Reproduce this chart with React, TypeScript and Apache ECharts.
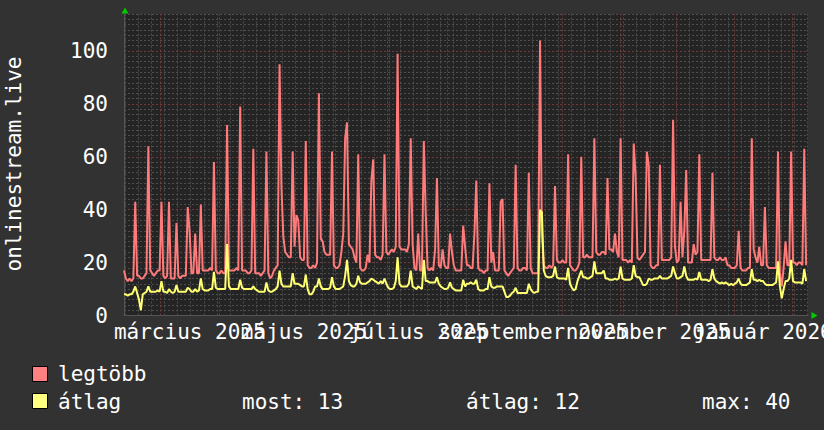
import React, { useEffect, useRef } from 'react';
import * as echarts from 'echarts';

const FONT = '"DejaVu Sans Mono", monospace';
const DAY = 86400000;
// left edge of the plot (one year back from the right edge)
const START = Date.UTC(2025, 1, 9, 9, 36);
const SPAN_DAYS = 365;

// daily maximum viewers ("legtöbb")
const maxValues = [
  17, 14, 13, 14, 13, 14, 43, 15, 15, 14,
  14, 15, 16, 64, 17, 16, 15, 16, 17, 17,
  43, 15, 14, 15, 43, 14, 14, 14, 35, 15,
  14, 15, 15, 15, 41, 32, 16, 16, 31, 16,
  16, 42, 17, 17, 17, 17, 18, 17, 58, 17,
  16, 16, 17, 16, 16, 72, 17, 17, 17, 17,
  18, 17, 79, 17, 17, 17, 16, 16, 17, 63,
  16, 16, 16, 15, 16, 17, 62, 16, 14, 15,
  17, 18, 19, 95, 49, 30, 24, 23, 22, 22,
  62, 26, 38, 36, 22, 21, 21, 66, 19, 18,
  18, 19, 18, 20, 84, 29, 28, 24, 23, 23,
  23, 62, 19, 18, 18, 19, 24, 31, 67, 73,
  27, 26, 25, 22, 20, 61, 18, 17, 17, 18,
  23, 20, 51, 59, 23, 22, 22, 21, 23, 61,
  24, 23, 24, 25, 24, 26, 99, 26, 25, 25,
  25, 24, 27, 67, 27, 18, 17, 31, 17, 17,
  66, 39, 18, 17, 18, 17, 25, 52, 19, 18,
  25, 19, 18, 18, 31, 24, 19, 17, 17, 17,
  17, 34, 26, 19, 19, 18, 18, 31, 51, 18,
  17, 17, 16, 17, 17, 50, 20, 24, 17, 17,
  17, 43, 44, 17, 16, 15, 16, 17, 18, 57,
  18, 17, 17, 18, 18, 17, 54, 18, 16, 16,
  16, 16, 104, 31, 19, 18, 18, 19, 18, 19,
  49, 21, 20, 20, 21, 20, 20, 61, 19, 18,
  17, 17, 18, 20, 60, 22, 22, 23, 22, 22,
  22, 67, 24, 23, 23, 24, 24, 23, 52, 25,
  25, 24, 31, 24, 22, 67, 21, 21, 21, 20,
  21, 20, 65, 53, 22, 21, 22, 23, 24, 62,
  57, 19, 18, 18, 19, 19, 57, 21, 21, 21,
  21, 21, 22, 74, 26, 20, 21, 43, 22, 32,
  55, 20, 20, 20, 27, 23, 24, 61, 21, 21,
  21, 21, 21, 21, 54, 22, 21, 21, 22, 21,
  21, 22, 19, 19, 18, 18, 18, 19, 32, 18,
  17, 17, 17, 18, 18, 67, 25, 22, 20, 26,
  19, 19, 41, 19, 18, 18, 18, 18, 18, 62,
  16, 11, 18, 28, 19, 19, 62, 20, 20, 19,
  20, 20, 19, 63, 19,
];

// daily average viewers ("átlag")
const avgValues = [
  8, 8, 7.5, 8, 8, 9, 11, 8.5, 6, 2,
  8, 8.5, 9, 11, 9, 9, 9, 9, 9.5, 9,
  13, 9, 9, 8.5, 10, 9, 8.5, 9, 11.5, 9,
  9, 9, 9, 9, 10.5, 10, 9, 9, 10, 9,
  9.5, 14, 10, 9.5, 9.5, 9.5, 10, 10, 16.5, 10.5,
  10, 10, 10, 10, 10, 27, 11, 10, 10, 10,
  10, 10, 13.5, 10.5, 10, 10, 10, 10, 10, 11,
  10, 9.5, 9, 9, 9, 9, 12.5, 9.5, 9, 9,
  9.5, 10, 11, 17, 12, 11, 11, 11, 11, 11,
  16, 12, 12, 12, 11.5, 11, 11, 15.5, 10, 8,
  8, 9, 11, 11, 14, 11, 10, 10, 10, 10,
  10.5, 14.5, 11, 10, 10, 10, 10.5, 11, 15, 21,
  13, 11.5, 11, 11, 12, 15, 12.5, 12, 12, 12,
  12.5, 13, 14, 13.5, 13, 12.5, 12, 13, 12, 14,
  12, 10.5, 10, 10, 10.5, 13, 22, 12, 11, 11,
  11, 11, 12, 17, 11, 10.5, 10, 11, 10.5, 10,
  21, 13, 13, 12.5, 12.5, 12.5, 12.5, 14.5, 12, 11,
  10.5, 10, 10, 10.5, 12.5, 10.5, 10, 9.5, 9.5, 9.5,
  9.5, 13.5, 11, 12, 12, 12.5, 12, 12, 13.5, 10,
  9.5, 9.5, 9.5, 10, 10, 14.5, 11, 10.5, 10.5, 11,
  11, 11, 11, 9, 7, 7, 7.5, 8.5, 9, 10.5,
  8.5, 8.5, 8.5, 8.5, 8.5, 8.5, 12, 10, 9, 8.5,
  9, 9, 40, 39, 17, 15, 14.5, 14.5, 14.5, 15,
  18.5, 14.5, 14, 14, 14, 14, 13.5, 18, 12, 10.5,
  9.5, 10, 13, 15, 17, 14.5, 14.5, 14, 14, 14.5,
  15, 20.5, 16, 16, 16, 16, 17, 14, 14, 13.5,
  13.5, 13.5, 14, 13.5, 14, 18.5, 14, 13.5, 13.5, 13.5,
  13.5, 14, 19, 15, 14.5, 14.5, 13, 11.5, 11.5, 12,
  14, 13.5, 13.5, 14, 14, 14, 15, 14, 14, 14,
  14, 14.5, 15, 18.5, 16, 14, 14, 14.5, 15, 18.5,
  15, 13.5, 13.5, 13.5, 13.5, 14, 13.5, 16.5, 13.5, 13.5,
  13.5, 13.5, 13, 13.5, 17.5, 14, 13, 12.5, 12, 12.5,
  12, 12.5, 12, 11.5, 12, 11.5, 12, 12.5, 14, 12,
  11.5, 11.5, 11.5, 12, 12.5, 17.5, 13.5, 13.5, 13, 13.5,
  13, 13, 12, 11.5, 11.5, 11.5, 11.5, 12, 12.5, 20.5,
  11, 6.5, 10, 13, 13, 14, 21, 13, 12.5, 12.5,
  12.5, 12.5, 12, 17.5, 13,
];

// x-axis labels: [year, monthIndex] and their texts
const xLabelMonths: [number, number][] = [[2025, 2], [2025, 4], [2025, 6], [2025, 8], [2025, 10], [2026, 0]];
const xLabelTexts = ['március 2025', 'május 2025', 'július 2025', 'szeptember 2025', 'november 2025', 'január 2026'];
const yTickStep = 20;
const yMax = 114;

const seriesNames = ['legtöbb', 'átlag'];
const seriesColors = ['#ff7b7b', '#ffff72'];
const statTexts = ['most: 13', 'átlag: 12', 'max: 40'];

const toDay = (t: number) => (t - START) / DAY;

function monthStarts(): number[] {
  const out: number[] = [];
  for (let k = 0; k < 14; k++) {
    const d = toDay(Date.UTC(2025, 1 + k, 1));
    if (d > 0 && d < SPAN_DAYS) out.push(d);
  }
  return out;
}
function mondays(): number[] {
  const out: number[] = [];
  let t = Date.UTC(2025, 1, 10);
  while (toDay(t) < SPAN_DAYS) {
    out.push(toDay(t));
    t += 7 * DAY;
  }
  return out;
}
const labelPositions = xLabelMonths.map(([y, m]) => (toDay(Date.UTC(y, m, 1)) + toDay(Date.UTC(y, m + 1, 1))) / 2);

function labelFor(v: number): string {
  let best = 0;
  labelPositions.forEach((p, i) => { if (Math.abs(p - v) < Math.abs(labelPositions[best] - v)) best = i; });
  return xLabelTexts[best];
}

export default function App() {
  const ref = useRef<HTMLDivElement>(null);
  useEffect(() => {
    document.body.style.margin = '0';
    document.body.style.background = '#323232';
    const chart = echarts.init(ref.current!, null, { renderer: 'svg' });
    const gridColor = '#4e4e4e';
    const majorColor = '#733838';
    const splitColors = [majorColor, gridColor, gridColor, gridColor, gridColor, gridColor, gridColor, gridColor, gridColor, gridColor];
    const vLines = [
      ...mondays().map((x) => ({ xAxis: x, lineStyle: { color: gridColor, type: [2, 2], width: 1 } })),
      ...monthStarts().map((x) => ({ xAxis: x, lineStyle: { color: majorColor, type: [2, 2], width: 1 } })),
    ];
    const labelStyle = {
      formatter: labelFor,
      color: '#ffffff', fontFamily: FONT, fontSize: 21, margin: 6,
      showMinLabel: true, showMaxLabel: true, hideOverlap: false,
    };
    const option: any = {
      animation: false,
      backgroundColor: '#323232',
      grid: {
        left: 124, top: 14, right: 16, bottom: 114.5,
        show: true, backgroundColor: '#242424', borderWidth: 0,
        containLabel: false, outerBoundsMode: 'none',
      },
      xAxis: [
        {
          type: 'value', min: 0, max: SPAN_DAYS, position: 'bottom',
          axisLine: { show: true, onZero: false, lineStyle: { color: '#555555', width: 1 } },
          axisTick: { show: false },
          splitLine: { show: false },
          axisLabel: { ...labelStyle, customValues: labelPositions.filter((_, i) => i % 2 === 0) },
        },
        {
          type: 'value', min: 0, max: SPAN_DAYS, position: 'bottom', offset: 0,
          axisLine: { show: false, onZero: false },
          axisTick: { show: false },
          splitLine: { show: false },
          axisLabel: { ...labelStyle, customValues: labelPositions.filter((_, i) => i % 2 === 1) },
        },
      ],
      yAxis: {
        type: 'value', min: 0, max: yMax, interval: 2,
        axisLine: { show: true, lineStyle: { color: '#555555', width: 1 } },
        axisTick: { show: false },
        splitLine: { show: true, lineStyle: { color: splitColors, type: [2, 2], width: 1 } },
        axisLabel: {
          formatter: (v: number) => (v % yTickStep === 0 ? String(v) : ''),
          color: '#ffffff', fontFamily: FONT, fontSize: 21, margin: 16,
          showMinLabel: true, showMaxLabel: true, hideOverlap: false,
        },
      },
      series: [
        {
          type: 'line', data: [], silent: true, z: 1, xAxisIndex: 0,
          markLine: { silent: true, z: 1, symbol: ['none', 'none'], label: { show: false }, emphasis: { disabled: true }, data: vLines },
        },
        {
          name: seriesNames[0], type: 'line', z: 3, silent: true, xAxisIndex: 0,
          data: maxValues.map((v, i) => [i, v]),
          showSymbol: false, symbol: 'none',
          lineStyle: { color: seriesColors[0], width: 2 },
        },
        {
          name: seriesNames[1], type: 'line', z: 4, silent: true, xAxisIndex: 0,
          data: avgValues.map((v, i) => [i, v]),
          showSymbol: false, symbol: 'none',
          lineStyle: { color: seriesColors[1], width: 2 },
        },
      ],
      graphic: [
        { type: 'polygon', silent: true, shape: { points: [[125, 7.5], [121.5, 13.5], [128.5, 13.5]] }, style: { fill: '#00cc00' } },
        { type: 'polygon', silent: true, shape: { points: [[817.5, 315.5], [811.5, 312], [811.5, 319]] }, style: { fill: '#00cc00' } },
        {
          type: 'text', x: 14, y: 164, rotation: Math.PI / 2, silent: true,
          style: { text: 'onlinestream.live', fill: '#ffffff', font: `21px ${FONT}`, align: 'center', verticalAlign: 'middle', textAlign: 'center', textVerticalAlign: 'middle' },
        },
        { type: 'rect', silent: true, shape: { x: 32.5, y: 366.5, width: 15, height: 15 }, style: { fill: '#ff8080', stroke: '#000000', lineWidth: 1 } },
        { type: 'rect', silent: true, shape: { x: 32.5, y: 393.5, width: 15, height: 15 }, style: { fill: '#ffff80', stroke: '#000000', lineWidth: 1 } },
        { type: 'text', silent: true, x: 58, y: 374, style: { text: seriesNames[0], fill: '#ffffff', font: `21px ${FONT}`, verticalAlign: 'middle', textVerticalAlign: 'middle' } },
        { type: 'text', silent: true, x: 58, y: 401.5, style: { text: seriesNames[1], fill: '#ffffff', font: `21px ${FONT}`, verticalAlign: 'middle', textVerticalAlign: 'middle' } },
        { type: 'text', silent: true, x: 242, y: 401.5, style: { text: statTexts[0], fill: '#ffffff', font: `21px ${FONT}`, verticalAlign: 'middle', textVerticalAlign: 'middle' } },
        { type: 'text', silent: true, x: 466, y: 401.5, style: { text: statTexts[1], fill: '#ffffff', font: `21px ${FONT}`, verticalAlign: 'middle', textVerticalAlign: 'middle' } },
        { type: 'text', silent: true, x: 702, y: 401.5, style: { text: statTexts[2], fill: '#ffffff', font: `21px ${FONT}`, verticalAlign: 'middle', textVerticalAlign: 'middle' } },
      ],
    };
    chart.setOption(option);
    return () => chart.dispose();
  }, []);
  return <div ref={ref} style={{ width: 824, height: 430, background: '#323232' }} />;
}
